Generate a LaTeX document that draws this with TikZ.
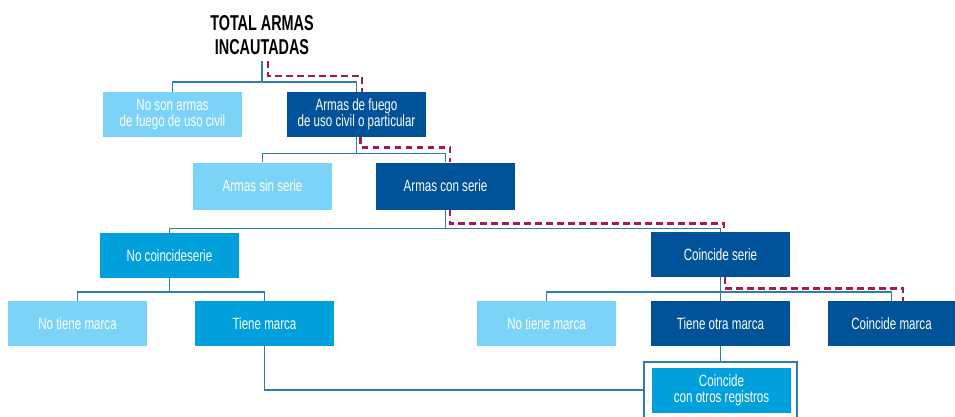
\documentclass[tikz,border=0pt]{standalone}
\usepackage{fontspec}
\setmainfont{Liberation Sans}[FakeStretch=0.71]
\newfontfamily\titlefont{Liberation Sans}[FakeStretch=0.67]
\definecolor{lightblue}{RGB}{123,211,247}
\definecolor{midblue}{RGB}{0,160,220}
\definecolor{darkblue}{RGB}{0,82,153}
\definecolor{linkblue}{RGB}{46,127,168}
\definecolor{trailred}{RGB}{166,25,79}
\tikzset{
	box/.style={rectangle, minimum width=139pt, minimum height=45pt, inner sep=0pt, align=center, text=white, font=\fontsize{16.3}{16}\selectfont},
	lightbox/.style={box, fill=lightblue},
	midbox/.style={box, fill=midblue},
	darkbox/.style={box, fill=darkblue},
	link/.style={linkblue, line width=1.6pt},
	trail/.style={trailred, line width=2.6pt, dash pattern=on 6.5pt off 4.5pt},
}

\begin{document}
\begin{tikzpicture}[x=1pt, y=-1pt]
\useasboundingbox (0,0) rectangle (955,416);
% title
\node[anchor=south, align=center, inner sep=0pt, inner ysep=6pt, font=\titlefont\fontsize{21.5}{24}\selectfont\bfseries] (total) at (262,61) {TOTAL ARMAS\\INCAUTADAS};

% boxes
\node[lightbox] (nocivil) at (172.5,114.5) {No son armas\\de fuego de uso civil};
\node[darkbox] (civil) at (356.5,114.5) {Armas de fuego\\de uso civil o particular};
\node[lightbox, minimum height=47pt] (sinserie) at (262.5,186) {Armas sin serie};
\node[darkbox, minimum height=47pt] (conserie) at (445.5,186) {Armas con serie};
\node[midbox] (nocoincide) at (169.5,255.5) {No coincideserie};
\node[darkbox] (coincide) at (720.5,254.5) {Coincide serie};
\node[lightbox] (nomarcaA) at (77.5,323.5) {No tiene marca};
\node[midbox] (marca) at (264.5,323.5) {Tiene marca};
\node[lightbox] (nomarcaB) at (546.5,323.5) {No tiene marca};
\node[darkbox] (otramarca) at (720.5,323.5) {Tiene otra marca};
\node[darkbox, minimum width=127pt] (coincidemarca) at (891.5,323.5) {Coincide marca};
\node[rectangle, draw=linkblue, line width=1.6pt, minimum width=153pt, minimum height=56pt] (regframe) at (720.5,390) {};
\node[midbox] (registros) at (721.5,390.5) {Coincide\\con otros registros};

% tree lines
\draw[link] (total.south) -- (262,82) coordinate (j1);
\draw[link] (nocivil.north) |- (j1) -| (civil.north);
\draw[link] (civil.south) -- (civil.south |- 0,153.5) coordinate (j2);
\draw[link] (sinserie.north) |- (j2) -| (conserie.north);
\draw[link] (conserie.south) -- (conserie.south |- 0,228.5) coordinate (j3);
\draw[link] (nocoincide.north) |- (j3) -| (coincide.north);
\draw[link] (nocoincide.south) -- (nocoincide.south |- 0,292) coordinate (j4);
\draw[link] (nomarcaA.north) |- (j4) -| (marca.north);
\draw[link] (coincide.south) -- (coincide.south |- 0,292) coordinate (j5);
\draw[link] (nomarcaB.north) |- (j5) -| (coincidemarca.north);
\draw[link] (j5) -- (otramarca.north);
\draw[link] (otramarca.south) -- (regframe.north);
\draw[link] (marca.south) |- (regframe.west);

% dashed route
\draw[trail] ([xshift=6pt]total.south) -- ++(0,15) -| ([xshift=5.5pt]civil.north);
\draw[trail] ([xshift=4pt]civil.south) -- ++(0,10) -| ([xshift=4.5pt]conserie.north);
\draw[trail] ([xshift=4.5pt]conserie.south) -- ++(0,14) -| ([xshift=3.5pt]coincide.north);
\draw[trail] ([xshift=4.5pt]coincide.south) -- ++(0,11) -| ([xshift=11.5pt]coincidemarca.north);
\end{tikzpicture}
\end{document}
